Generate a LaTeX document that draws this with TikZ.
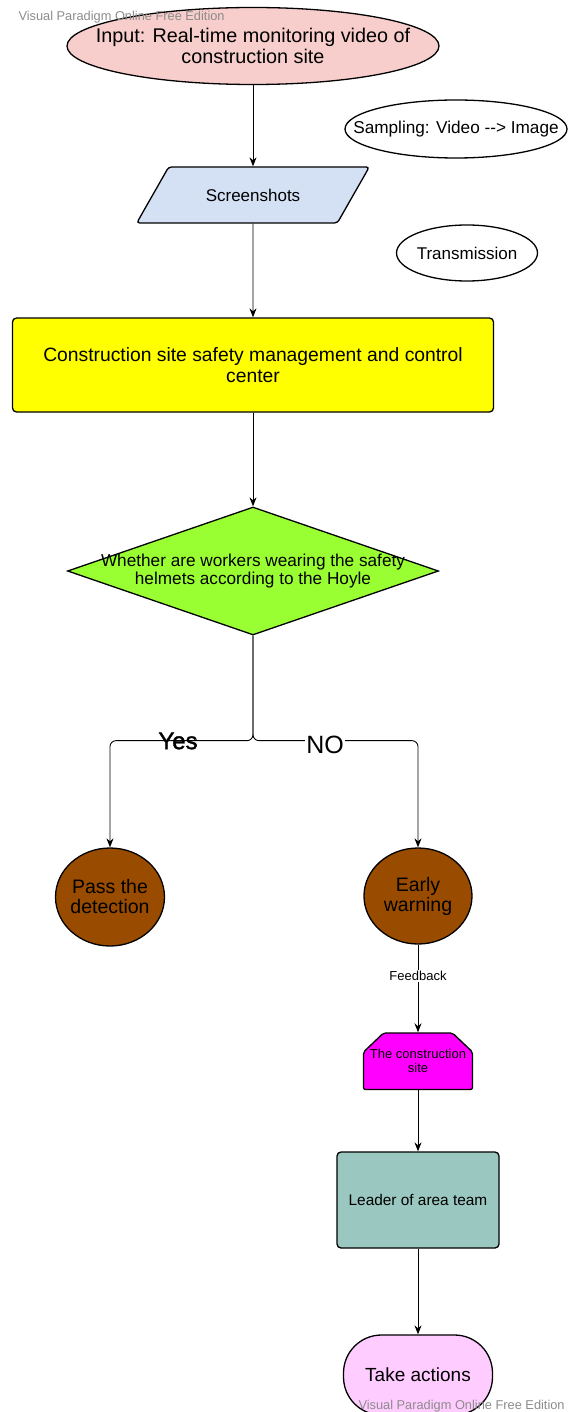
\documentclass[tikz,border=0pt]{standalone}
\usepackage{fontspec}
\setmainfont{Liberation Sans}
\usetikzlibrary{shapes.geometric,arrows.meta}
\definecolor{inputpink}{HTML}{F8CECC}
\definecolor{shotblue}{HTML}{D4E1F5}
\definecolor{controlyellow}{HTML}{FFFF00}
\definecolor{helmetgreen}{HTML}{99FF33}
\definecolor{detectbrown}{HTML}{994C00}
\definecolor{sitemagenta}{HTML}{FF00FF}
\definecolor{leaderteal}{HTML}{9AC7BF}
\definecolor{actionpink}{HTML}{FFCCFF}
\definecolor{markgrey}{HTML}{8C8C8C}

\begin{document}
\begin{tikzpicture}[x=1pt, y=-1pt,
		txt/.style 2 args={font=\fontsize{#1}{#2}\selectfont},
		shapeline/.style={draw, line width=1.3pt},
		flow/.style={line width=0.9pt, -{Stealth[length=9pt,width=7pt]}},
		watermark/.style={anchor=west, text=markgrey, txt={12.8}{15}}]
				\useasboundingbox (0,0) rectangle (567,1412);

				\node [ellipse, shapeline, fill=inputpink, minimum width=372pt, minimum height=77pt,
					label={[align=center, txt={19.8}{21}]center:Input: Real-time monitoring video of\\construction site}] (input) at (253,46) {};
				\node [watermark] (marktop) at (15,17) {Visual Paradigm Online Free Edition};

				\node [ellipse, shapeline, fill=white, minimum width=222pt, minimum height=58pt,
					label={[txt={17.2}{19}]center:Sampling: Video -{}-{}> Image}] (sampling) at (456,129) {};
				\node [ellipse, shapeline, fill=white, minimum width=141pt, minimum height=56pt,
					label={[txt={17}{19}]center:Transmission}] (transmission) at (467,253) {};

				\node [trapezium, trapezium left angle=45, trapezium right angle=135, trapezium stretches=true,
					shapeline, fill=shotblue, rounded corners=3pt, minimum width=233pt, minimum height=56pt,
					txt={17}{19}] (shots) at (253,195) {Screenshots};
				\draw [flow] (input) -- (shots);

				\node [rectangle, shapeline, fill=controlyellow, rounded corners=4pt, minimum width=481pt,
					minimum height=94pt, align=center, txt={19.3}{21}] (control) at (253,365)
					{Construction site safety management and control\\center};
				\draw [flow] (shots) -- (control);

				\node [diamond, shapeline, fill=helmetgreen, minimum width=371pt, minimum height=128pt, inner sep=0pt,
					label={[align=center, txt={17.2}{18}]center:Whether are workers wearing the safety\\helmets according to the Hoyle}] (check) at (253,571) {};
				\draw [flow] (control) -- (check);

				\node [ellipse, shapeline, fill=detectbrown, minimum width=109pt, minimum height=98pt,
					label={[align=center, txt={19.5}{20}]center:Pass the\\detection}] (pass) at (110,897) {};
				\node [ellipse, shapeline, fill=detectbrown, minimum width=108pt, minimum height=96pt,
					label={[align=center, txt={19.5}{20}]center:Early\\warning}] (warn) at (418,896) {};
				\draw [flow, rounded corners=6pt] (check.south) -- ++(0,105) -| (pass.north);
				\draw [flow, rounded corners=6pt] (check.south) -- ++(0,105) -| (warn.north);
				\node [txt={24}{26}] (yes) at (178,741) {\addfontfeature{FakeBold=1.5}Yes};
				\node [fill=white, inner sep=1pt, txt={25}{26}] (no) at (325,745) {NO};

				% chamfered box drawn by hand, the node only holds the text
				\draw [shapeline, fill=sitemagenta, rounded corners=2pt] (363.5,1089.5) -- (363.5,1052)
					-- (383.5,1033) -- (452.5,1033) -- (472.5,1052) -- (472.5,1089.5) -- cycle;
				\node [minimum width=109pt, minimum height=57pt, inner sep=0pt, align=center,
					txt={13}{14}] (site) at (418,1061) {The construction\\site};
				\draw [flow] (warn) -- node [fill=white, inner sep=1pt, pos=0.36, txt={13}{14}] (feedback) {Feedback} (site);

				\node [rectangle, shapeline, fill=leaderteal, rounded corners=4pt, minimum width=162pt,
					minimum height=96pt, txt={15.4}{17}] (leader) at (418,1200) {Leader of area team};
				\draw [flow] (site) -- (leader);

				\node [rectangle, shapeline, fill=actionpink, rounded corners=38pt, minimum width=149pt,
					minimum height=80pt, txt={19}{21}] (take) at (418,1375) {Take actions};
				\draw [flow] (leader) -- (take);
				\node [watermark] (markbottom) at (355,1406) {Visual Paradigm Online Free Edition};
			\end{tikzpicture}
\end{document}
